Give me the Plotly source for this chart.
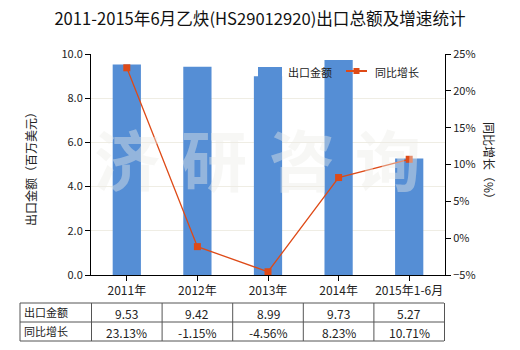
import plotly.graph_objects as go

# Export value (million USD) and year-on-year growth (%)
categories = ["2011年", "2012年", "2013年", "2014年", "2015年1-6月"]
export_value = [9.53, 9.42, 8.99, 9.73, 5.27]
growth_pct = [23.13, -1.15, -4.56, 8.23, 10.71]
row_labels = ["出口金额", "同比增长"]
series_names = ["出口金额", "同比增长"]

BAR_COLOR = "#558ED5"
LINE_COLOR = "#DE4A17"
FONT = "Noto Sans CJK SC, Microsoft YaHei, sans-serif"

W, H = 520, 350
L, R, T, B = 91, 445, 54, 275

def py(y_px):
    return (B - y_px) / (B - T)

def px(x_px):
    return (x_px - L) / (R - L)

fig = go.Figure()
fig.add_trace(go.Bar(
    x=categories, y=export_value, name=series_names[0],
    marker=dict(color=BAR_COLOR, line=dict(width=0)),
    width=0.4, yaxis="y", showlegend=False,
))
fig.add_trace(go.Scatter(
    x=categories, y=growth_pct, name=series_names[1], yaxis="y2",
    mode="lines+markers",
    line=dict(color=LINE_COLOR, width=1.3),
    marker=dict(symbol="square", size=7, color=LINE_COLOR),
    showlegend=False,
))

shapes = []
annotations = []

# Legend drawn by hand, sitting over the plot with no background
shapes.append(dict(type="rect", xref="paper", yref="paper",
                   x0=px(258), x1=px(282), y0=py(77), y1=py(67),
                   fillcolor=BAR_COLOR, line=dict(width=0), layer="above"))
annotations.append(dict(text=series_names[0], xref="paper", yref="paper",
                        x=px(286), y=py(71.5), xanchor="left", yanchor="middle",
                        showarrow=False, font=dict(size=11, color="#222")))
shapes.append(dict(type="line", xref="paper", yref="paper",
                   x0=px(346), x1=px(367), y0=py(71), y1=py(71),
                   line=dict(color=LINE_COLOR, width=2), layer="above"))
shapes.append(dict(type="rect", xref="paper", yref="paper",
                   x0=px(353.5), x1=px(359.5), y0=py(74), y1=py(68),
                   fillcolor=LINE_COLOR, line=dict(width=0), layer="above"))
annotations.append(dict(text=series_names[1], xref="paper", yref="paper",
                        x=px(373), y=py(71.5), xanchor="left", yanchor="middle",
                        showarrow=False, font=dict(size=11, color="#222")))

# Data table under the chart
tbl_top, tbl_mid, tbl_bot = 303, 322, 341
tbl_left = px(20)
line_style = dict(color="#555555", width=1)
for y_px in (tbl_top, tbl_mid, tbl_bot):
    shapes.append(dict(type="line", xref="paper", yref="paper",
                       x0=tbl_left, x1=px(444),
                       y0=py(y_px), y1=py(y_px), line=line_style))
shapes.append(dict(type="line", xref="paper", yref="paper",
                   x0=tbl_left, x1=tbl_left, y0=py(tbl_top), y1=py(tbl_bot),
                   line=line_style))
for i in range(len(categories) + 1):
    shapes.append(dict(type="line", xref="x", yref="paper",
                       x0=i - 0.5, x1=i - 0.5, y0=py(tbl_top), y1=py(tbl_bot),
                       line=line_style))

rows = [
    [f"{v:.2f}" for v in export_value],
    [f"{v:.2f}%" for v in growth_pct],
]
row_centers = [(tbl_top + tbl_mid) / 2 + 1, (tbl_mid + tbl_bot) / 2 + 1]
for r, (label, vals) in enumerate(zip(row_labels, rows)):
    yc = py(row_centers[r])
    annotations.append(dict(text=label, xref="paper", yref="paper",
                            x=px(22), y=py(row_centers[r] - 2), xanchor="left",
                            yanchor="middle", showarrow=False,
                            font=dict(size=11, color="#222")))
    for i, t in enumerate(vals):
        annotations.append(dict(text=t, xref="x", yref="paper",
                                x=i, y=yc, xanchor="center", yanchor="middle",
                                showarrow=False, font=dict(size=12, color="#222")))

# Faint watermark over the plot
for ch, cx in zip("济研咨询", (127, 214, 302, 388)):
    annotations.append(dict(text=f"<b>{ch}</b>", xref="paper", yref="paper",
                            x=px(cx), y=py(157), xanchor="center",
                            yanchor="middle", showarrow=False,
                            font=dict(size=66, color="rgba(236,236,232,0.42)")))

# Axis titles
annotations.append(dict(text="出口金额（百万美元）", xref="paper", yref="paper",
                        x=px(30), y=py(166), xanchor="center", yanchor="middle",
                        textangle=-90, showarrow=False,
                        font=dict(size=12, color="#222")))
annotations.append(dict(text="同比增长（%）", xref="paper", yref="paper",
                        x=px(490), y=py(163), xanchor="center", yanchor="middle",
                        textangle=90, showarrow=False,
                        font=dict(size=12, color="#222")))

fig.update_layout(
    width=W, height=H,
    margin=dict(l=L, r=W - R, t=T, b=H - B),
    paper_bgcolor="white", plot_bgcolor="white",
    font=dict(family=FONT, size=11, color="#222"),
    title=dict(text="2011-2015年6月乙炔(HS29012920)出口总额及增速统计",
               x=0.5, xanchor="center", y=1 - 19 / H, yanchor="middle",
               font=dict(size=16.6, color="#111")),
    bargap=0.6,
    showlegend=False,
    xaxis=dict(type="category", showgrid=False, showline=True,
               linecolor="black", linewidth=1, ticks="outside", ticklen=5,
               tickcolor="black", tickfont=dict(size=12), zeroline=False),
    yaxis=dict(range=[0, 10], dtick=2, tickformat=".1f", showline=True,
               linecolor="black", linewidth=1, ticks="outside", ticklen=5,
               tickcolor="black", showgrid=True, gridcolor="#EFEDE4",
               zeroline=False, tickfont=dict(size=11)),
    yaxis2=dict(range=[-5, 25], dtick=5, ticksuffix="%", overlaying="y",
                side="right", showline=True, linecolor="black", linewidth=1,
                ticks="outside", ticklen=5, tickcolor="black", showgrid=False,
                zeroline=False, tickfont=dict(size=11)),
    shapes=shapes,
    annotations=annotations,
)

fig.write_html("out.html")
